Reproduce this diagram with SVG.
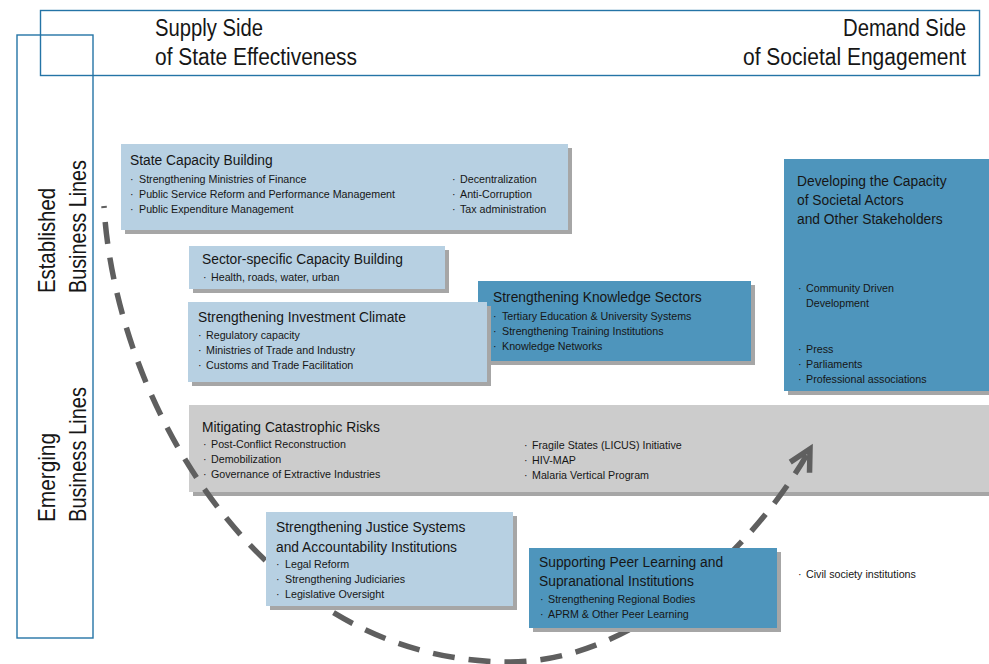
<svg xmlns="http://www.w3.org/2000/svg" width="989" height="664" viewBox="0 0 989 664">
  <defs>
    <style>
      text { font-family: "Liberation Sans", Arial, sans-serif; fill: #161616; }
      .frame { fill: none; stroke: #2474a6; stroke-width: 1.4; }
      .head { font-size: 23px; }
      .side { font-size: 24px; }
      .title { font-size: 13.8px; }
      .item { font-size: 10.7px; }
      .light { fill: #b7d0e2; }
      .dark { fill: #4e95bc; }
      .grey { fill: #cccccc; }
      .shadow { fill: #a6a6a6; }
      .path { fill: none; stroke: #5f5f5f; stroke-width: 5.5; stroke-dasharray: 22 14; stroke-dashoffset: 20; }
    </style>
    <marker id="arrow" markerUnits="userSpaceOnUse" markerWidth="40" markerHeight="40" viewBox="-30 -20 40 40" refX="0" refY="0" orient="auto">
      <path d="M-21,-11 L0,0 L-21,11" fill="none" stroke="#5f5f5f" stroke-width="5.5" stroke-dasharray="none"/>
    </marker>
  </defs>

  <rect width="989" height="664" fill="#ffffff"/>

  <!-- header frame and axis frame -->
  <g id="frames">
    <rect class="frame" x="40.5" y="10.5" width="939" height="65"/>
    <rect class="frame" x="17" y="35" width="76" height="603"/>
  </g>

  <g id="header-supply">
    <text class="head" x="155" y="36" textLength="108" lengthAdjust="spacingAndGlyphs">Supply Side</text>
    <text class="head" x="155" y="65" textLength="202" lengthAdjust="spacingAndGlyphs">of State Effectiveness</text>
  </g>
  <g id="header-demand">
    <text class="head" x="843" y="36" textLength="123" lengthAdjust="spacingAndGlyphs">Demand Side</text>
    <text class="head" x="743" y="65" textLength="223" lengthAdjust="spacingAndGlyphs">of Societal Engagement</text>
  </g>

  <g id="label-established">
    <text class="side" transform="translate(55,293) rotate(-90)" textLength="105" lengthAdjust="spacingAndGlyphs">Established</text>
    <text class="side" transform="translate(86,293) rotate(-90)" textLength="133" lengthAdjust="spacingAndGlyphs">Business Lines</text>
  </g>
  <g id="label-emerging">
    <text class="side" transform="translate(55,522) rotate(-90)" textLength="89" lengthAdjust="spacingAndGlyphs">Emerging</text>
    <text class="side" transform="translate(86,522) rotate(-90)" textLength="135" lengthAdjust="spacingAndGlyphs">Business Lines</text>
  </g>

  <!-- band lying under the progression path -->
  <g id="catastrophic-risks">
    <rect class="shadow" x="193" y="409" width="800" height="87"/>
    <rect class="grey" x="189" y="405" width="800" height="87"/>
    <text class="title" x="202" y="432">Mitigating Catastrophic Risks</text>
    <g class="item">
      <text class="item" x="203" y="448">·</text><text class="item" x="211" y="448">Post-Conflict Reconstruction</text>
      <text class="item" x="203" y="463">·</text><text class="item" x="211" y="463">Demobilization</text>
      <text class="item" x="203" y="478">·</text><text class="item" x="211" y="478">Governance of Extractive Industries</text>
      <text class="item" x="524" y="449">·</text><text class="item" x="532" y="449">Fragile States (LICUS) Initiative</text>
      <text class="item" x="524" y="464">·</text><text class="item" x="532" y="464">HIV-MAP</text>
      <text class="item" x="524" y="479">·</text><text class="item" x="532" y="479">Malaria Vertical Program</text>
    </g>
  </g>

  <!-- progression path -->
  <g id="connectors">
    <path class="path" d="M104,206 C115,400 260,662 510,662 C640,662 760,540 810,449" marker-end="url(#arrow)"/>
  </g>

  <g id="state-capacity">
    <rect class="shadow" x="125" y="148" width="447" height="86"/>
    <rect class="light" x="121" y="144" width="447" height="86"/>
    <text class="title" x="130" y="165">State Capacity Building</text>
    <text class="item" x="130" y="183">·</text><text class="item" x="139" y="183">Strengthening Ministries of Finance</text>
    <text class="item" x="130" y="198">·</text><text class="item" x="139" y="198">Public Service Reform and Performance Management</text>
    <text class="item" x="130" y="213">·</text><text class="item" x="139" y="213">Public Expenditure Management</text>
    <text class="item" x="452" y="183">·</text><text class="item" x="460" y="183">Decentralization</text>
    <text class="item" x="452" y="198">·</text><text class="item" x="460" y="198">Anti-Corruption</text>
    <text class="item" x="452" y="213">·</text><text class="item" x="460" y="213">Tax administration</text>
  </g>

  <g id="sector-specific">
    <rect class="shadow" x="193" y="250" width="256" height="43"/>
    <rect class="light" x="189" y="246" width="256" height="43"/>
    <text class="title" x="202" y="264">Sector-specific Capacity Building</text>
    <text class="item" x="203" y="281">·</text><text class="item" x="211" y="281">Health, roads, water, urban</text>
  </g>

  <g id="knowledge-sectors">
    <rect class="shadow" x="482" y="285" width="273" height="80"/>
    <rect class="dark" x="478" y="281" width="273" height="80"/>
    <text class="title" x="493" y="302">Strengthening Knowledge Sectors</text>
    <text class="item" x="493" y="320">·</text><text class="item" x="502" y="320">Tertiary Education &amp; University Systems</text>
    <text class="item" x="493" y="335">·</text><text class="item" x="502" y="335">Strengthening Training Institutions</text>
    <text class="item" x="493" y="350">·</text><text class="item" x="502" y="350">Knowledge Networks</text>
  </g>

  <g id="investment-climate">
    <rect class="shadow" x="192" y="306" width="299" height="80"/>
    <rect class="light" x="188" y="302" width="299" height="80"/>
    <text class="title" x="198" y="322">Strengthening Investment Climate</text>
    <text class="item" x="198" y="339">·</text><text class="item" x="206" y="339">Regulatory capacity</text>
    <text class="item" x="198" y="354">·</text><text class="item" x="206" y="354">Ministries of Trade and Industry</text>
    <text class="item" x="198" y="369">·</text><text class="item" x="206" y="369">Customs and Trade Facilitation</text>
  </g>

  <g id="societal-actors">
    <rect class="shadow" x="788" y="163" width="206" height="232"/>
    <rect class="dark" x="784" y="159" width="206" height="232"/>
    <text class="title" x="797" y="186">Developing the Capacity</text>
    <text class="title" x="797" y="205">of Societal Actors</text>
    <text class="title" x="797" y="224">and Other Stakeholders</text>
    <text class="item" x="798" y="292">·</text><text class="item" x="806" y="292">Community Driven</text>
    <text class="item" x="806" y="307">Development</text>
    <text class="item" x="798" y="353">·</text><text class="item" x="806" y="353">Press</text>
    <text class="item" x="798" y="368">·</text><text class="item" x="806" y="368">Parliaments</text>
    <text class="item" x="798" y="383">·</text><text class="item" x="806" y="383">Professional associations</text>
  </g>

  <g id="justice-systems">
    <rect class="shadow" x="270" y="516" width="247" height="94"/>
    <rect class="light" x="266" y="512" width="247" height="94"/>
    <text class="title" x="276" y="532">Strengthening Justice Systems</text>
    <text class="title" x="276" y="552">and Accountability Institutions</text>
    <text class="item" x="276" y="568">·</text><text class="item" x="285" y="568">Legal Reform</text>
    <text class="item" x="276" y="583">·</text><text class="item" x="285" y="583">Strengthening Judiciaries</text>
    <text class="item" x="276" y="598">·</text><text class="item" x="285" y="598">Legislative Oversight</text>
  </g>

  <g id="peer-learning">
    <rect class="shadow" x="533" y="552" width="248" height="80"/>
    <rect class="dark" x="529" y="548" width="248" height="80"/>
    <text class="title" x="539" y="567">Supporting Peer Learning and</text>
    <text class="title" x="539" y="586">Supranational Institutions</text>
    <text class="item" x="540" y="603">·</text><text class="item" x="548" y="603">Strengthening Regional Bodies</text>
    <text class="item" x="540" y="618">·</text><text class="item" x="548" y="618">APRM &amp; Other Peer Learning</text>
  </g>

  <g id="civil-society">
    <text class="item" x="798" y="578">·</text><text class="item" x="806" y="578">Civil society institutions</text>
  </g>
</svg>
